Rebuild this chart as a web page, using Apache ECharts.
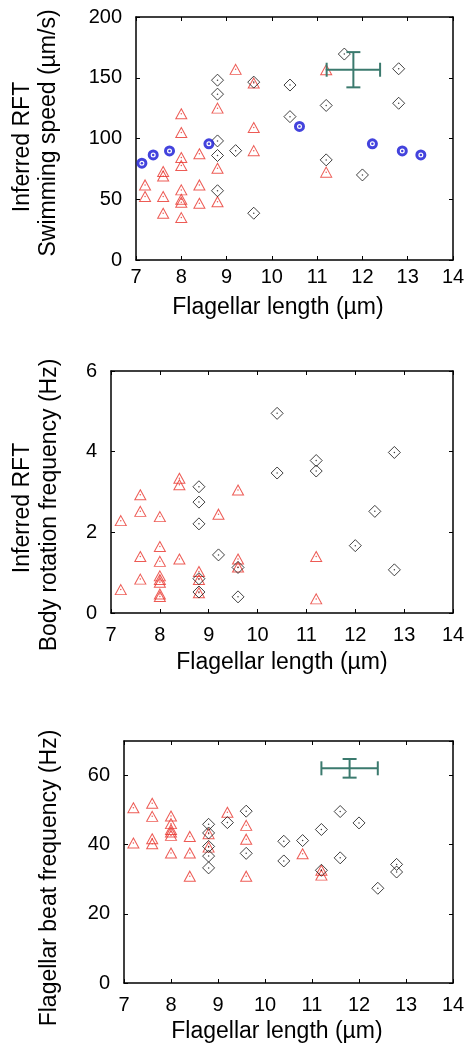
<!DOCTYPE html>
<html>
<head>
<meta charset="utf-8">
<script src="https://cdn.jsdelivr.net/npm/echarts@6/dist/echarts.min.js"></script>
<style>
  html, body { margin: 0; padding: 0; background: #fff; }
  #chart { width: 469px; height: 1048px; }
</style>
</head>
<body>
<div id="chart"></div>
<script>
  // panel 1: swimming speed (um/s) vs flagellar length (um)
  var speedRed = [[7.2, 61.8], [7.2, 52.2], [7.6, 72.8], [7.6, 69.2], [7.6, 52.2], [7.6, 38.5],
    [8.0, 120.3], [8.0, 104.9], [8.0, 84.3], [8.0, 77.7], [8.0, 57.7], [8.0, 50], [8.0, 47.5], [8.0, 34.9],
    [8.4, 87.4], [8.4, 61.8], [8.4, 46.7], [8.8, 125], [8.8, 75.5], [8.8, 48], [9.2, 156.9],
    [9.6, 145.6], [9.6, 109], [9.6, 90], [11.2, 156.6], [11.2, 72.3]];
  var speedBlack = [[8.8, 148], [8.8, 136.5], [9.6, 146.4], [10.4, 144], [10.4, 118], [11.2, 127.2],
    [11.6, 169.5], [12.8, 157.4], [12.8, 129], [8.8, 98], [8.8, 86], [9.2, 90], [11.2, 82.4],
    [12.0, 70], [8.8, 57], [9.6, 38.5]];
  var speedBlue = [[7.13, 79.7], [7.38, 86.5], [7.74, 89.8], [8.61, 95.6], [10.61, 109.9],
    [12.22, 95.6], [12.88, 89.8], [13.29, 86.5]];
  var speedErr = [[11.8, 156.6, 0.59, 14.5]]; // x, y, x error, y error

  // panel 2: body rotation frequency (Hz)
  var rotRed = [[7.2, 2.29], [7.6, 2.93], [7.6, 2.52], [8.0, 2.39], [8.4, 3.34], [8.4, 3.18], [9.6, 3.05],
    [9.2, 2.45], [7.6, 1.40], [8.0, 1.65], [8.0, 1.28], [8.4, 1.34], [7.6, 0.84], [8.0, 0.92], [8.0, 0.83],
    [8.0, 0.76], [8.0, 0.47], [8.0, 0.41], [7.2, 0.58], [8.8, 1.03], [8.8, 0.83], [8.8, 0.50],
    [9.6, 1.34], [9.6, 1.14], [11.2, 1.40], [11.2, 0.35]];
  var rotBlack = [[10.4, 4.95], [12.8, 3.98], [11.2, 3.78], [11.2, 3.52], [10.4, 3.47], [8.8, 3.13],
    [8.8, 2.75], [8.8, 2.21], [12.4, 2.52], [12.0, 1.67], [9.2, 1.44], [9.6, 1.13], [8.8, 0.85],
    [8.8, 0.52], [9.6, 0.40], [12.8, 1.07]];

  // panel 3: flagellar beat frequency (Hz)
  var beatRed = [[7.2, 50.7], [7.2, 40.5], [7.6, 52.0], [7.6, 48.2], [7.6, 41.7], [7.6, 40.3],
    [8.0, 48.3], [8.0, 46.1], [8.0, 44.4], [8.0, 43.7], [8.0, 42.7], [8.0, 37.6], [8.4, 42.4],
    [8.4, 37.6], [8.4, 30.9], [8.8, 43.2], [8.8, 39.3], [9.2, 49.4], [9.6, 45.6], [9.6, 41.6],
    [9.6, 30.9], [10.8, 37.4], [11.2, 32.6], [11.2, 31.2]];
  var beatBlack = [[9.6, 49.7], [8.8, 45.9], [8.8, 43.4], [9.2, 46.4], [8.8, 39.5], [8.8, 36.7],
    [8.8, 33.3], [9.6, 37.5], [10.4, 41.0], [10.4, 35.3], [10.8, 41.2], [11.2, 44.4], [11.6, 49.6],
    [11.6, 36.2], [12.0, 46.3], [12.4, 27.4], [12.8, 34.3], [12.8, 32.1], [11.2, 32.6]];
  var beatErr = [[11.8, 62.1, 0.6, 2.7]];

  var xRange = [7, 14, 1];
  var yRanges = [[0, 200, 50], [0, 6, 2], [0, 70, 20]];
  var xTitle = 'Flagellar length (µm)';

  var font = 'Liberation Sans, Arial, sans-serif';
  var RED = '#e8322b', BLACK = '#111', BLUE = '#1414d4', TEAL = '#3b7a6e';

  function xAxes(grid, margin) {
    var base = {
      gridIndex: grid, type: 'value', min: xRange[0], max: xRange[1], interval: xRange[2],
      splitLine: {show: false},
      axisLine: {onZero: false, lineStyle: {color: '#000', width: 1.5}},
      axisTick: {inside: true, length: 4, lineStyle: {color: '#000'}}
    };
    return [
      Object.assign({}, base, {position: 'bottom',
        axisLabel: {color: '#000', fontSize: 20, fontFamily: font, margin: margin}}),
      Object.assign({}, base, {position: 'top', axisLabel: {show: false}})
    ];
  }

  function yAxes(grid) {
    var r = yRanges[grid];
    var base = {
      gridIndex: grid, type: 'value', min: r[0], max: r[1], interval: r[2],
      splitLine: {show: false},
      axisLine: {onZero: false, lineStyle: {color: '#000', width: 1.5}},
      axisTick: {inside: true, length: 4, lineStyle: {color: '#000'}}
    };
    return [
      Object.assign({}, base, {position: 'left',
        axisLabel: {color: '#000', fontSize: 20, fontFamily: font, margin: 14, showMaxLabel: r[1] % r[2] === 0}}),
      Object.assign({}, base, {position: 'right', axisLabel: {show: false}})
    ];
  }

  function triangles(data, i) {
    return {
      type: 'scatter', xAxisIndex: i * 2, yAxisIndex: i * 2, data: data,
      symbol: 'triangle', symbolSize: [11, 10],
      itemStyle: {color: 'rgba(255,255,255,0)', borderColor: RED, borderWidth: 1}
    };
  }

  function diamonds(data, i) {
    return {
      type: 'scatter', xAxisIndex: i * 2, yAxisIndex: i * 2, data: data,
      symbol: 'diamond', symbolSize: [12, 12],
      itemStyle: {color: 'rgba(255,255,255,0)', borderColor: BLACK, borderWidth: 1}
    };
  }

  function dots(data, i, color, size) {
    return {
      type: 'scatter', xAxisIndex: i * 2, yAxisIndex: i * 2, data: data,
      symbol: 'circle', symbolSize: size, silent: true,
      itemStyle: {color: color}
    };
  }

  function errorBar(data, i) {
    return {
      type: 'custom', xAxisIndex: i * 2, yAxisIndex: i * 2, data: data, z: 5,
      renderItem: function (params, api) {
        var x = api.value(0), y = api.value(1), ex = api.value(2), ey = api.value(3);
        var l = api.coord([x - ex, y]), r = api.coord([x + ex, y]);
        var t = api.coord([x, y + ey]), b = api.coord([x, y - ey]);
        var cap = 7;
        var style = {stroke: TEAL, lineWidth: 2};
        var seg = function (x1, y1, x2, y2) {
          return {type: 'line', shape: {x1: x1, y1: y1, x2: x2, y2: y2}, style: style};
        };
        return {
          type: 'group',
          children: [
            seg(l[0], l[1], r[0], r[1]),
            seg(l[0], l[1] - cap, l[0], l[1] + cap),
            seg(r[0], r[1] - cap, r[0], r[1] + cap),
            seg(t[0], t[1], b[0], b[1]),
            seg(t[0] - cap, t[1], t[0] + cap, t[1]),
            seg(b[0] - cap, b[1], b[0] + cap, b[1])
          ]
        };
      }
    };
  }

  function vText(text, x, y) {
    return {
      type: 'text', x: x, y: y, rotation: Math.PI / 2,
      style: {text: text, fill: '#000', font: '23px ' + font, textAlign: 'center', textVerticalAlign: 'middle'}
    };
  }

  function hText(text, x, y) {
    return {
      type: 'text', x: x, y: y,
      style: {text: text, fill: '#000', font: '23px ' + font, textAlign: 'center', textVerticalAlign: 'middle'}
    };
  }

  var option = {
    backgroundColor: '#fff',
    animation: false,
    grid: [
      {left: 136, right: 16, top: 17, height: 243},
      {left: 111, right: 16, top: 371, height: 242},
      {left: 124, right: 16, top: 741, height: 242}
    ],
    xAxis: [].concat(xAxes(0, 7), xAxes(1, 12), xAxes(2, 12)),
    yAxis: [].concat(yAxes(0), yAxes(1), yAxes(2)),
    graphic: [
      vText('Inferred RFT', 23, 147),
      vText('Swimming speed (µm/s)', 49, 133),
      vText('Inferred RFT', 23, 508),
      vText('Body rotation frequency (Hz)', 50, 505),
      vText('Flagellar beat frequency (Hz)', 50, 878),
      hText(xTitle, 278, 308),
      hText(xTitle, 282, 663),
      hText(xTitle, 277, 1032)
    ],
    series: [
      triangles(speedRed, 0),
      diamonds(speedBlack, 0),
      dots(speedRed, 0, RED, 1.5),
      dots(speedBlack, 0, BLACK, 1.5),
      {
        type: 'scatter', xAxisIndex: 0, yAxisIndex: 0, data: speedBlue,
        symbol: 'circle', symbolSize: 8,
        itemStyle: {color: '#fff', borderColor: BLUE, borderWidth: 3}
      },
      dots(speedBlue, 0, BLUE, 2.5),
      errorBar(speedErr, 0),

      triangles(rotRed, 1),
      diamonds(rotBlack, 1),
      dots(rotRed, 1, RED, 1.5),
      dots(rotBlack, 1, BLACK, 1.5),

      triangles(beatRed, 2),
      diamonds(beatBlack, 2),
      dots(beatRed, 2, RED, 1.5),
      dots(beatBlack, 2, BLACK, 1.5),
      errorBar(beatErr, 2)
    ]
  };

  var chart = echarts.init(document.getElementById('chart'), null, {renderer: 'canvas'});
  chart.setOption(option);
</script>
</body>
</html>
